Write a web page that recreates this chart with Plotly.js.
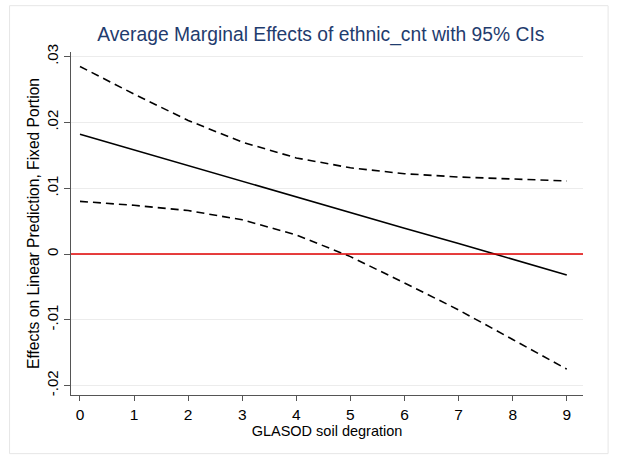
<!DOCTYPE html>
<html>
<head>
<meta charset="utf-8">
<script src="https://cdn.plot.ly/plotly-3.0.1.min.js"></script>
<style>
  html, body { margin: 0; padding: 0; background: #ffffff; }
  #chart { width: 617px; height: 456px; }
</style>
</head>
<body>
<div id="chart"></div>
<script>
// Soil degradation levels (x) and marginal effect estimates
const soilDegradation = [0, 1, 2, 3, 4, 5, 6, 7, 8, 9];
const marginalEffect = [0.0182, 0.0158, 0.0134, 0.0111, 0.0087, 0.0063, 0.0039, 0.0016, -0.0008, -0.0032];
const upperCI = [0.0285, 0.0243, 0.0203, 0.0170, 0.0146, 0.0131, 0.0122, 0.0117, 0.0114, 0.0111];
const lowerCI = [0.0080, 0.0074, 0.0066, 0.0052, 0.0029, -0.0004, -0.0044, -0.0085, -0.0130, -0.0175];

const yTickValues = [-0.02, -0.01, 0, 0.01, 0.02, 0.03];
const yTickLabels = ['-.02', '-.01', '0', '.01', '.02', '.03'];
const xTickValues = [0, 1, 2, 3, 4, 5, 6, 7, 8, 9];

const fontFamily = 'Liberation Sans, Arial, sans-serif';

const traces = [
  {
    x: soilDegradation, y: upperCI, mode: 'lines', type: 'scatter',
    line: { color: '#000000', width: 1.6, dash: '8px,5px' }, hoverinfo: 'skip'
  },
  {
    x: soilDegradation, y: lowerCI, mode: 'lines', type: 'scatter',
    line: { color: '#000000', width: 1.6, dash: '8px,5px' }, hoverinfo: 'skip'
  },
  {
    x: soilDegradation, y: marginalEffect, mode: 'lines', type: 'scatter',
    line: { color: '#000000', width: 1.6 }
  }
];

const layout = {
  width: 617,
  height: 456,
  paper_bgcolor: '#ffffff',
  plot_bgcolor: '#ffffff',
  showlegend: false,
  margin: { l: 71, r: 34, t: 52, b: 61 },
  font: { family: fontFamily, color: '#000000', size: 15 },
  title: {
    text: 'Average Marginal Effects of ethnic_cnt with 95% CIs',
    font: { family: fontFamily, size: 19.3, color: '#1f3c6e' },
    x: 0.52, xanchor: 'center', y: 0.925, yanchor: 'middle'
  },
  xaxis: {
    range: [-0.166, 9.30],
    tickvals: xTickValues,
    ticks: 'outside', ticklen: 5, tickcolor: '#555555', tickwidth: 1,
    showline: true, linecolor: '#555555', linewidth: 1,
    showgrid: false, zeroline: false,
    tickfont: { size: 15.5, color: '#000000' },
    title: { text: 'GLASOD soil degration', font: { size: 14.5, color: '#000000' }, standoff: 0 }
  },
  yaxis: {
    range: [-0.02143, 0.0307],
    tickvals: yTickValues,
    ticktext: yTickLabels,
    tickangle: -90,
    ticks: 'outside', ticklen: 6, tickcolor: '#555555', tickwidth: 1,
    showline: true, linecolor: '#555555', linewidth: 1,
    showgrid: true, gridcolor: '#ececec', gridwidth: 1,
    zeroline: false,
    tickfont: { size: 15, color: '#000000' },
    title: { text: 'Effects on Linear Prediction, Fixed Portion', font: { size: 15.6, color: '#000000' }, standoff: 0 }
  },
  shapes: [
    {
      // reference line at zero effect
      type: 'line', xref: 'paper', x0: 0, x1: 1, yref: 'y', y0: 0, y1: 0,
      line: { color: '#e00000', width: 1.6 }, layer: 'above'
    },
    {
      // outer graph frame
      type: 'rect', xref: 'paper', yref: 'paper',
      x0: -0.120, x1: 1.049, y0: -0.171, y1: 1.135,
      line: { color: '#e6e6e6', width: 1 }, layer: 'below'
    }
  ]
};

Plotly.newPlot('chart', traces, layout, { displayModeBar: false, staticPlot: true });
</script>
</body>
</html>
